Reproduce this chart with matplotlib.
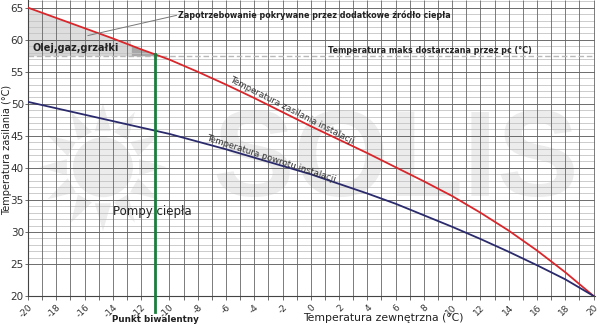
import numpy as np
import matplotlib.pyplot as plt
from matplotlib.patches import Ellipse, Polygon, Rectangle

# outdoor temperature (deg C)
t_out = [-20, -18, -16, -14, -12, -10, -8, -6, -4, -2, 0,
         2, 4, 6, 8, 10, 12, 14, 16, 18, 20]
# supply temperature (red)
t_supply = [65.0, 63.4, 61.8, 60.2, 58.5, 56.9, 55.0, 53.0, 50.9, 48.7, 46.5,
            44.4, 42.3, 40.1, 37.9, 35.6, 33.0, 30.2, 27.1, 23.7, 20.0]
# return temperature (blue)
t_return = [50.3, 49.3, 48.3, 47.3, 46.3, 45.3, 44.1, 42.9, 41.6, 40.3, 39.0,
            37.5, 36.0, 34.4, 32.6, 30.8, 28.9, 26.9, 24.8, 22.6, 20.0]

t_biv = -11          # bivalent point
t_max_hp = 57.5      # max temperature delivered by heat pump

x_ticks = list(range(-20, 21, 2))
y_ticks = list(range(20, 66, 5))

dark = '#333333'
grid_c = '#555555'


def main():
    fig = plt.figure(figsize=(6, 3.25), dpi=100)
    ax = fig.add_axes([28 / 600, 1 - 296 / 325, 567 / 600, 296 / 325])
    ax.set_xlim(-20, 20.1)
    ax.set_ylim(20, 66.2)

    # scale: pixels per data unit
    px_x = 566 / 40
    px_y = 288.5 / 45

    # --- watermark (sun + SOLIS) ---
    wm = '#ececec'
    cx, cy = -14.7, 40.1
    ax.add_patch(Ellipse((cx, cy), 2 * 30 / px_x, 2 * 30 / px_y, color=wm, zorder=0, lw=0))
    for k in range(12):
        a = 2 * np.pi * k / 12 + np.pi / 2
        r0, r1, hw = 37, 64, 0.22
        pts = [(cx + r0 * np.cos(a - hw) / px_x, cy + r0 * np.sin(a - hw) / px_y),
               (cx + r1 * np.cos(a) / px_x, cy + r1 * np.sin(a) / px_y),
               (cx + r0 * np.cos(a + hw) / px_x, cy + r0 * np.sin(a + hw) / px_y)]
        ax.add_patch(Polygon(pts, closed=True, color=wm, zorder=0, lw=0))
    ax.text(6.0, 40.6, 'SOLIS', fontsize=88, fontweight='bold', family='Liberation Sans',
            color=wm, ha='center', va='center', zorder=0)

    # --- shaded area above max HP temperature ---
    x_f = np.linspace(-20, t_biv, 60)
    r_f = np.interp(x_f, t_out, t_supply)
    ax.fill_between(x_f, t_max_hp, r_f, where=r_f >= t_max_hp, color='#dedede', zorder=0.5, lw=0)
    ax.add_patch(Rectangle((-20, t_max_hp), 7.3, 2.4, color='#d6d6d6', lw=0, zorder=0.55))
    x_d = np.linspace(-12.7, t_biv, 30)
    r_d = np.minimum(np.interp(x_d, t_out, t_supply), 59.1)
    ax.fill_between(x_d, t_max_hp, r_d, color='#a8a8a8', zorder=0.6, lw=0)

    # --- grid ---
    ax.hlines([y for y in range(26, 67) if y % 5], -20, 20.1, color='#c4c4c4', lw=0.6, zorder=1)
    ax.hlines([y for y in range(25, 67, 5)], -20, 20.1, color=grid_c, lw=0.6, zorder=1.1)
    ax.vlines(range(-19, 21), 20, 66.2, color='#666666', lw=0.6, zorder=1.1)

    # max HP temperature dashed line
    ax.plot([-20, 20], [t_max_hp, t_max_hp], color='#b8b8b8', lw=1.0, ls=(0, (4, 2)), zorder=1.5)

    # --- curves ---
    ax.plot(t_out, t_supply, color='#d8262b', lw=1.3, zorder=3)
    ax.plot(t_out, t_return, color='#2a2a6c', lw=1.3, zorder=3)

    # bivalent point line
    y_top = np.interp(t_biv, t_out, t_supply)
    ax.plot([t_biv, t_biv], [17.5, y_top], color='#1b7d3c', lw=2, zorder=4, clip_on=False)

    # --- texts ---
    ax.text(-19.65, 58.75, 'Olej,gaz,grzałki', fontsize=7, fontweight='bold', color='#222222',
            va='center', ha='left', zorder=5)
    ax.plot([-15.76, -9.5], [60.65, 63.8], color='#777777', lw=0.7, zorder=5)
    ax.text(-9.4, 63.8, 'Zapotrzebowanie pokrywane przez dodatkowe źródło ciepła',
            fontsize=5.8, fontweight='bold', color='#222222', va='center', ha='left', zorder=5)
    ax.text(1.2, 58.3, 'Temperatura maks dostarczana przez pc (°C)',
            fontsize=5.8, fontweight='bold', color='#222222', va='center', ha='left', zorder=5)
    ax.text(-11.2, 33.2, 'Pompy ciepła', fontsize=8.5, color='#222222',
            va='center', ha='center', zorder=5)
    ax.text(-1.34, 49.0, 'Temperatura zasilania instalacji', fontsize=6.3, color=dark,
            rotation=-27, rotation_mode='anchor', va='center', ha='center', zorder=5)
    ax.text(-2.83, 41.5, 'Temperatura powrotu instalacji', fontsize=6.3, color=dark,
            rotation=-18, rotation_mode='anchor', va='center', ha='center', zorder=5)

    # --- axes & ticks ---
    for s in ['top', 'right']:
        ax.spines[s].set_visible(False)
    for s in ['left', 'bottom']:
        ax.spines[s].set_color('#444444')
        ax.spines[s].set_linewidth(0.8)

    ax.set_xticks(x_ticks)
    ax.set_xticks(range(-19, 21, 2), minor=True)
    ax.set_xticklabels([str(v) for v in x_ticks], rotation=45, ha='right', va='top',
                       rotation_mode='anchor', fontsize=6.5, color=dark)
    ax.set_yticks(y_ticks)
    ax.set_yticklabels([str(v) for v in y_ticks], fontsize=7.5, color=dark)
    ax.tick_params(axis='x', which='both', length=3, width=0.6, color=grid_c, pad=2)
    ax.tick_params(axis='y', which='both', length=2, width=0.6, color=grid_c, pad=1)

    fig.text(7 / 600, 1 - 150 / 325, 'Temperatura zasilania (°C)', fontsize=7,
             color='#222222', rotation=90, ha='center', va='center')
    fig.text(303 / 600, 1 - 318 / 325, 'Temperatura zewnętrzna (°C)', fontsize=7.8,
             color='#222222', ha='left', va='center')
    fig.text(155 / 600, 1 - 320 / 325, 'Punkt biwalentny', fontsize=6.3, fontweight='bold',
             color='#222222', ha='center', va='center')

    plt.savefig('out.png', dpi=100)


if __name__ == '__main__':
    main()
